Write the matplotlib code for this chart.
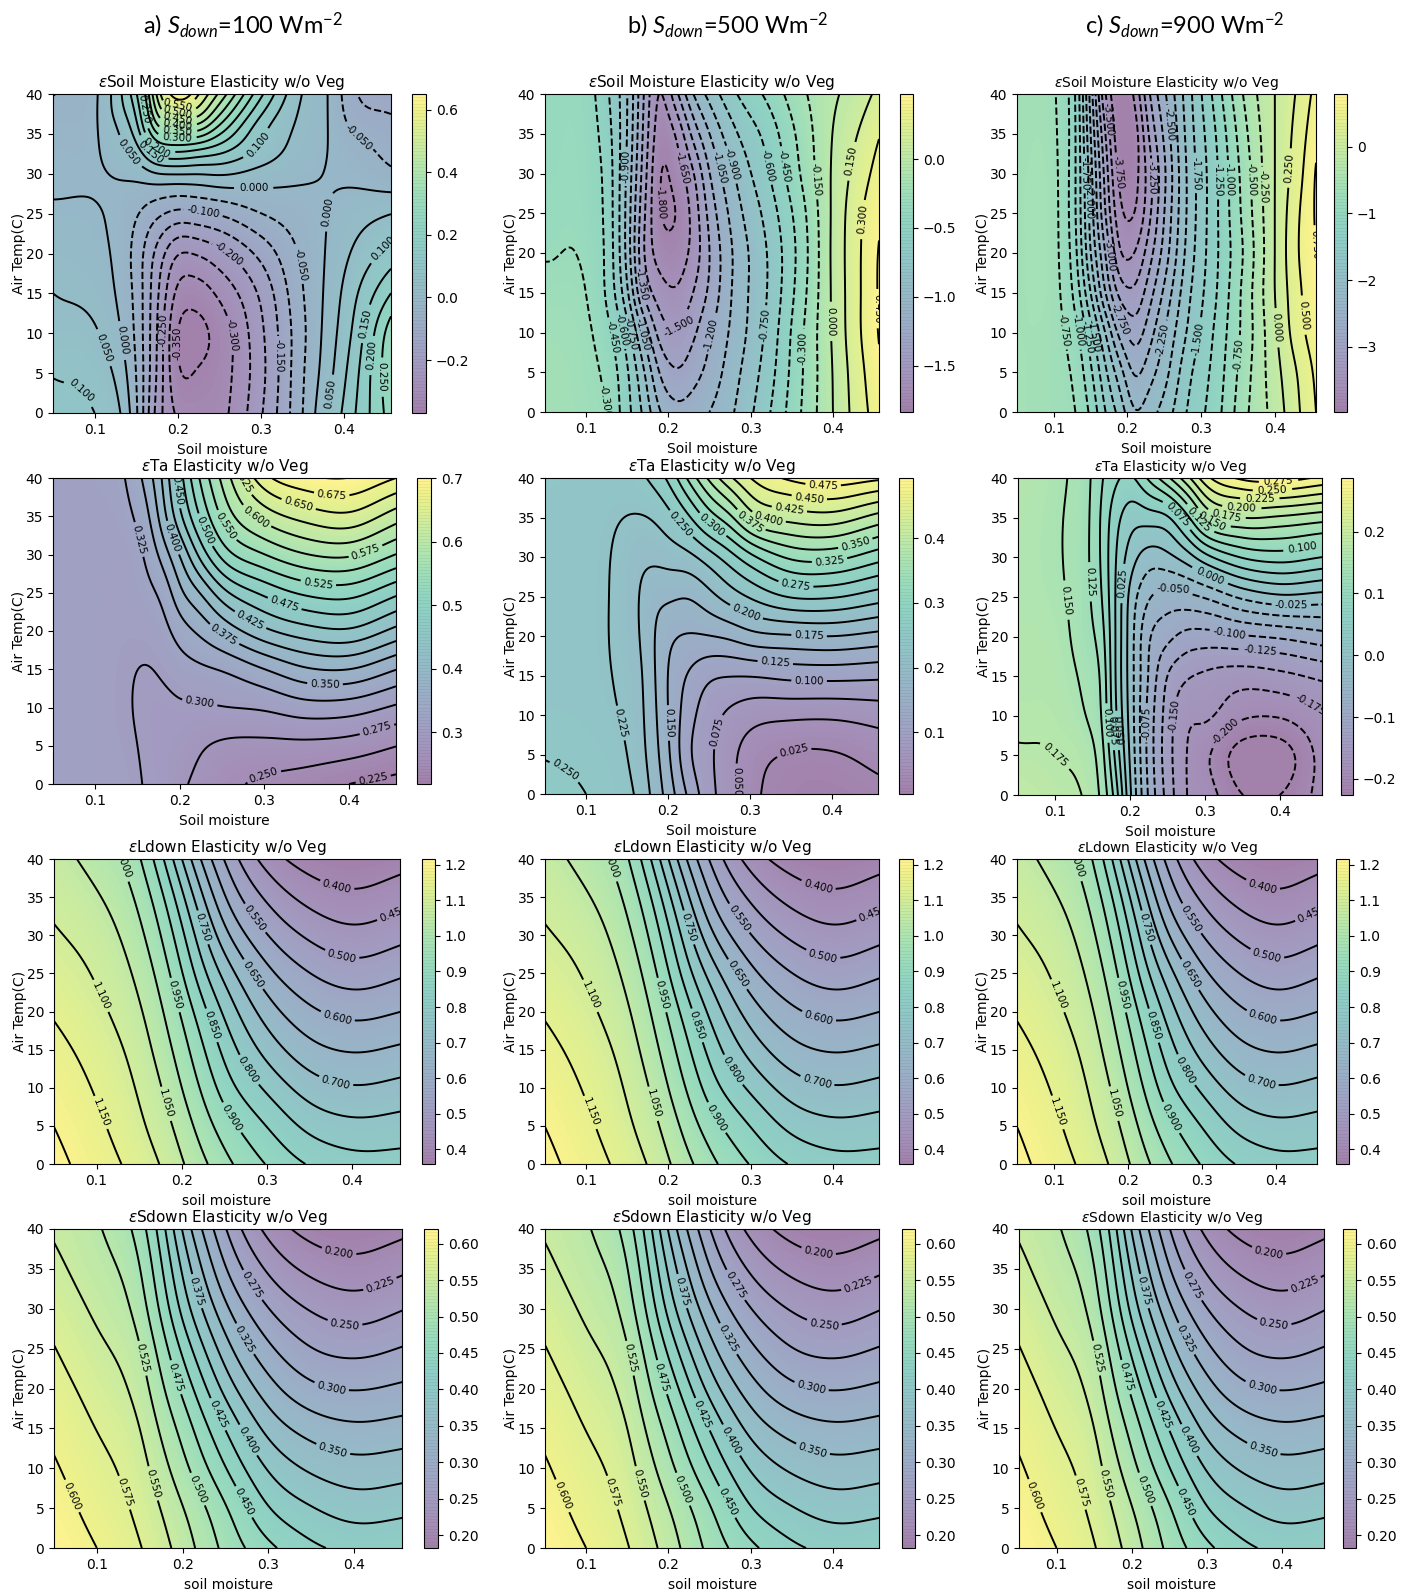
import numpy as np
import matplotlib
matplotlib.use("Agg")
import matplotlib.pyplot as plt
from matplotlib.colors import ListedColormap

W, H = 1403, 1596

# ---------- data ----------
y9 = [0, 5, 10, 15, 20, 25, 30, 35, 40]
y11 = [0, 5, 10, 15, 20, 25, 30, 33, 36, 38, 40]

# each list below is one soil-moisture column, values going up in air temperature
sm_x_a = [.05, .10, .13, .15, .175, .20, .225, .25, .30, .35, .38, .41, .456]
sm_a = [
 [.12, .097, .07, .05, .03, .007, -.01, -.012, -.022, -.035, -.052],
 [.10, .08, .057, .03, .012, .003, -.005, -.006, -.006, -.008, -.01],
 [.055, .03, .005, -.01, -.015, -.012, .004, .035, .06, .085, .09],
 [-.04, -.05, -.06, -.065, -.07, -.045, .015, .08, .135, .16, .19],
 [-.22, -.205, -.2, -.19, -.165, -.088, .045, .195, .35, .42, .46],
 [-.31, -.345, -.355, -.315, -.25, -.115, .05, .215, .395, .52, .65],
 [-.32, -.345, -.365, -.325, -.245, -.108, .05, .195, .39, .49, .55],
 [-.315, -.325, -.33, -.29, -.215, -.095, .055, .17, .295, .375, .44],
 [-.205, -.215, -.21, -.19, -.135, -.05, .03, .09, .12, .165, .21],
 [-.05, -.055, -.06, -.052, -.04, -.02, .008, .025, .035, .04, .047],
 [.05, .03, .02, .012, .005, 0., -.002, 0., .001, .001, .001],
 [.14, .125, .105, .085, .055, .025, -.012, -.025, -.06, -.08, -.09],
 [.275, .29, .28, .2, .12, .05, -.04, -.07, -.085, -.105, -.13],
]

sm_x_bc = [.05, .10, .125, .15, .17, .19, .21, .23, .25, .28, .32, .36, .40, .43, .456]
sm_b = [
 [-.20, -.21, -.22, -.26, -.31, -.33, -.34, -.35, -.36],
 [-.24, -.25, -.27, -.30, -.33, -.35, -.36, -.37, -.38],
 [-.30, -.34, -.40, -.47, -.48, -.49, -.50, -.53, -.57],
 [-.55, -.58, -.68, -.87, -.95, -.95, -.93, -.90, -.89],
 [-.78, -.88, -1.08, -1.38, -1.50, -1.47, -1.42, -1.38, -1.35],
 [-1.05, -1.22, -1.42, -1.58, -1.72, -1.80, -1.81, -1.75, -1.68],
 [-1.15, -1.34, -1.49, -1.635, -1.74, -1.80, -1.73, -1.63, -1.38],
 [-1.12, -1.26, -1.38, -1.50, -1.60, -1.60, -1.52, -1.30, -1.05],
 [-1.05, -1.15, -1.22, -1.32, -1.35, -1.30, -1.20, -1.05, -.85],
 [-.90, -.95, -1.0, -1.02, -1.03, -.98, -.90, -.78, -.62],
 [-.63, -.68, -.72, -.75, -.75, -.70, -.62, -.55, -.42],
 [-.31, -.33, -.34, -.38, -.40, -.37, -.30, -.26, -.19],
 [0., .005, .02, .025, .03, .025, .02, .005, -.025],
 [.22, .24, .27, .27, .27, .26, .21, .15, .07],
 [.38, .42, .46, .465, .46, .42, .36, .29, .19],
]

sm_x_c = [.05, .10, .13, .15, .17, .19, .21, .23, .25, .28, .32, .36, .40, .43, .456]
sm_c = [
 [-.58, -.58, -.59, -.60, -.60, -.60, -.60, -.62, -.62],
 [-.65, -.66, -.66, -.66, -.67, -.67, -.68, -.70, -.72],
 [-.75, -.82, -.93, -1.10, -1.20, -1.25, -1.25, -1.25, -1.27],
 [-1.05, -1.20, -1.40, -1.75, -2.0, -2.1, -2.15, -2.25, -2.35],
 [-1.5, -1.7, -2.0, -2.5, -2.75, -3.0, -3.1, -3.25, -3.5],
 [-1.85, -2.15, -2.6, -3.1, -3.5, -3.7, -3.85, -3.98, -4.0],
 [-2.25, -2.55, -2.88, -3.2, -3.5, -3.76, -3.85, -3.88, -3.7],
 [-2.1, -2.35, -2.6, -2.85, -3.1, -3.3, -3.35, -3.2, -3.0],
 [-1.9, -2.1, -2.25, -2.45, -2.65, -2.75, -2.8, -2.7, -2.55],
 [-1.5, -1.6, -1.75, -1.85, -1.95, -2.0, -2.0, -1.95, -1.9],
 [-1.1, -1.15, -1.2, -1.27, -1.3, -1.3, -1.3, -1.25, -1.15],
 [-.55, -.6, -.65, -.65, -.7, -.65, -.62, -.55, -.45],
 [-.15, -.1, -.05, 0., 0., 0., 0., 0., 0.],
 [.2, .25, .38, .42, .47, .45, .38, .33, .27],
 [.5, .55, .65, .72, .75, .78, .77, .68, .58],
]

ta_x = [.05, .10, .14, .16, .18, .20, .225, .25, .275, .30, .35, .40, .456]
ta_x_a = [.05, .10, .14, .16, .18, .20, .225, .25, .30, .35, .40, .456]
ta_a = [
 [.315, .315, .314, .313, .313, .313, .313, .314, .315],
 [.312, .31, .31, .31, .31, .311, .312, .313, .315],
 [.306, .303, .301, .302, .306, .31, .313, .321, .328],
 [.298, .297, .296, .298, .308, .318, .327, .34, .358],
 [.294, .293, .294, .303, .315, .33, .36, .39, .402],
 [.28, .288, .297, .313, .337, .37, .40, .445, .465],
 [.268, .277, .297, .32, .356, .40, .46, .505, .53],
 [.258, .27, .30, .325, .38, .44, .51, .555, .58],
 [.245, .268, .303, .348, .42, .48, .55, .61, .667],
 [.237, .268, .314, .372, .44, .505, .575, .635, .695],
 [.225, .264, .312, .375, .447, .51, .58, .645, .70],
 [.217, .25, .296, .35, .418, .48, .55, .612, .675],
]
ta_b = [
 [.262, .248, .24, .236, .235, .235, .235, .237, .24],
 [.25, .243, .237, .233, .232, .232, .232, .234, .238],
 [.237, .232, .225, .222, .22, .22, .221, .226, .235],
 [.225, .217, .214, .212, .207, .206, .208, .223, .24],
 [.197, .19, .186, .183, .18, .182, .205, .225, .255],
 [.165, .155, .15, .148, .155, .18, .21, .24, .278],
 [.12, .102, .11, .122, .148, .175, .217, .27, .33],
 [.083, .08, .085, .103, .15, .192, .237, .312, .38],
 [.06, .058, .07, .10, .155, .212, .262, .342, .42],
 [.033, .037, .06, .10, .167, .228, .29, .39, .45],
 [.015, .022, .055, .107, .172, .253, .33, .41, .48],
 [.012, .022, .054, .108, .175, .253, .333, .415, .49],
 [.018, .033, .06, .105, .167, .237, .31, .39, .48],
]
ta_c = [
 [.19, .178, .17, .167, .165, .163, .163, .165, .17],
 [.18, .175, .168, .163, .16, .155, .153, .153, .155],
 [.172, .163, .15, .143, .135, .133, .132, .133, .135],
 [.148, .14, .13, .125, .115, .105, .10, .10, .105],
 [.09, .07, .055, .05, .05, .05, .052, .06, .08],
 [.003, -.005, -.01, -.012, -.012, -.008, .013, .036, .07],
 [-.08, -.085, -.085, -.078, -.073, -.048, -.012, .037, .105],
 [-.135, -.14, -.137, -.127, -.093, -.06, -.006, .045, .145],
 [-.175, -.175, -.17, -.147, -.108, -.057, .012, .09, .19],
 [-.187, -.195, -.17, -.155, -.11, -.048, .04, .15, .24],
 [-.225, -.24, -.195, -.163, -.103, -.02, .077, .175, .28],
 [-.225, -.24, -.197, -.157, -.097, -.005, .087, .17, .286],
 [-.19, -.19, -.177, -.145, -.085, -.01, .075, .16, .27],
]

# these two are listed row by row, one row per air temperature
rad_x = [.05, .10, .15, .175, .20, .225, .25, .30, .35, .40, .46]
ldown = [
 [1.215, 1.175, 1.13, 1.10, 1.055, 1.01, .965, .897, .845, .82, .82],
 [1.20, 1.16, 1.11, 1.075, 1.03, .975, .925, .85, .785, .763, .772],
 [1.182, 1.145, 1.095, 1.055, 1.0, .94, .875, .79, .725, .703, .716],
 [1.165, 1.13, 1.078, 1.03, .975, .905, .835, .73, .665, .645, .66],
 [1.145, 1.112, 1.058, 1.01, .945, .865, .79, .675, .61, .585, .60],
 [1.125, 1.095, 1.038, .985, .905, .81, .735, .615, .55, .522, .545],
 [1.105, 1.078, 1.015, .955, .865, .76, .665, .55, .49, .464, .486],
 [1.088, 1.056, .99, .92, .815, .70, .60, .49, .432, .409, .433],
 [1.07, 1.03, .96, .87, .75, .635, .545, .428, .375, .36, .38],
]
sdown = [
 [.62, .60, .577, .56, .539, .515, .493, .456, .43, .419, .423],
 [.612, .59, .569, .55, .527, .504, .48, .425, .402, .388, .393],
 [.603, .582, .562, .535, .508, .48, .45, .397, .37, .36, .365],
 [.594, .574, .553, .52, .493, .458, .425, .366, .34, .33, .335],
 [.585, .565, .54, .505, .47, .43, .39, .335, .305, .298, .305],
 [.576, .555, .53, .49, .445, .40, .36, .305, .275, .267, .277],
 [.566, .545, .515, .47, .415, .37, .33, .275, .248, .237, .25],
 [.556, .535, .505, .455, .395, .345, .30, .245, .218, .209, .221],
 [.547, .528, .49, .44, .37, .32, .275, .217, .19, .183, .194],
]

titles = ['Soil Moisture', 'Ta', 'Ldown', 'Sdown']
headings = ['a)', 'b)', 'c)']
head_vals = ['100', '500', '900']
xticks = [.1, .2, .3, .4]
yticks = [0, 5, 10, 15, 20, 25, 30, 35, 40]
xlabels = ['Soil moisture', 'Soil moisture', 'soil moisture', 'soil moisture']
ylabel = 'Air Temp(C)'

lab_sm_a = {-.35:[(.201,8.7)],-.30:[(.262,9.7)],-.25:[(.178,10.4)],-.20:[(.259,19.6)],-.15:[(.325,7.2)],
 -.10:[(.231,25.4)],-.05:[(.351,18.7),(.415,34.4)],0.:[(.291,28.3),(.381,25.2),(.134,9.1)],
 .05:[(.114,8.3),(.142,32.8),(.381,2.4)],.10:[(.082,2.6),(.299,33.4),(.446,20.8)],
 .15:[(.425,11.2),(.166,32.6)],.20:[(.435,7.2),(.174,33.2)],.25:[(.448,4.5),(.154,38)],
 .30:[(.199,34.4)],.35:[(.2,35.6)],.40:[(.2,36.5)],.45:[(.2,37.2)],.50:[(.2,38)],.55:[(.2,38.7)]}
lab_sm_b = {-1.8:[(.191,26.3)],-1.65:[(.222,30.9)],-1.5:[(.216,10.4)],-1.35:[(.175,16.2)],-1.2:[(.261,9.5)],
 -1.05:[(.169,9.7),(.269,30.9)],-.9:[(.283,31.3),(.147,30.9)],-.75:[(.313,11),(.155,9.9)],
 -.6:[(.315,30.9),(.145,10.4)],-.45:[(.335,30.9),(.133,9.5)],-.3:[(.362,8),(.12,1.3)],-.15:[(.378,29.2)],
 0.:[(.4,11.4)],.15:[(.425,31.5)],.3:[(.437,24.2)],.45:[(.453,13)]}
lab_sm_c = {-3.75:[(.2,30.3)],-3.5:[(.176,36.8)],-3.25:[(.223,29.4)],-3.:[(.185,19.8)],-2.75:[(.2,12)],
 -2.5:[(.248,36.1)],-2.25:[(.248,9.1)],-2.:[(.155,26.3)],-1.75:[(.146,30),(.289,30)],
 -1.5:[(.302,9.1),(.153,9.5)],-1.25:[(.316,29.2),(.149,9.5)],-1.:[(.33,29.2),(.14,10.4)],
 -.75:[(.121,10.4),(.351,7.2)],-.5:[(.364,29.2)],-.25:[(.382,28.4)],0.:[(.404,10.6)],.25:[(.418,30.7)],
 .5:[(.441,12.2)],.75:[(.452,21)]}
lab_ta_a = {.225:[(.429,.7)],.25:[(.298,1.6)],.275:[(.433,7.3)],.30:[(.224,10.9)],.325:[(.153,32)],
 .35:[(.372,13.2)],.375:[(.25,19.1)],.40:[(.192,32.2)],.425:[(.283,21.3)],.45:[(.194,38.3)],
 .475:[(.323,23.2)],.50:[(.232,33.3)],.525:[(.364,26.2)],.55:[(.257,33.9)],.575:[(.42,30.4)],
 .60:[(.291,35)],.625:[(.265,39.3)],.65:[(.34,36.3)],.675:[(.38,37.9)]}
lab_ta_b = {.025:[(.353,5.6)],.05:[(.282,1.6)],.075:[(.259,7.9)],.10:[(.372,14.4)],.125:[(.331,16.9)],
 .15:[(.202,9)],.175:[(.372,20.1)],.20:[(.297,23.4)],.225:[(.143,9)],.25:[(.216,34.2),(.071,2.4)],
 .275:[(.356,26.7)],.30:[(.252,33.8)],.325:[(.397,29.5)],.35:[(.429,31.5)],.375:[(.303,34.9)],
 .40:[(.324,35.6)],.425:[(.348,36.1)],.45:[(.372,37.3)],.475:[(.389,38.9)]}
lab_ta_c = {-.2:[(.317,9.1)],-.175:[(.442,11.6)],-.15:[(.264,9.9)],-.125:[(.373,17.9)],-.1:[(.332,20.5)],
 -.075:[(.231,9.1)],-.05:[(.258,26.1)],-.025:[(.415,24)],0.:[(.306,27.6)],.025:[(.188,26.7)],
 .05:[(.192,8.2)],.075:[(.261,35.2),(.186,8.2)],.10:[(.431,30.8),(.173,9.1)],.125:[(.146,26.9),(.298,35.2)],
 .15:[(.115,24.6),(.315,35.6)],.175:[(.101,5.1),(.329,36)],.2:[(.349,36.4)],.225:[(.373,37)],
 .25:[(.39,38.2)],.275:[(.398,39.5)]}
lab_ld = {.40:[(.381,36)],.45:[(.449,32.7)],.50:[(.387,27)],.55:[(.283,32)],.60:[(.382,19)],.65:[(.28,24.6)],
 .70:[(.381,10.9)],.75:[(.221,30.9)],.80:[(.278,12.3)],.85:[(.23,18)],.90:[(.259,6.1)],.95:[(.19,22.1)],
 1.0:[(.139,39.6)],1.05:[(.185,8)],1.10:[(.106,22.1)],1.15:[(.106,6.8)]}
lab_sd = {.20:[(.382,36.9)],.225:[(.431,32.9)],.25:[(.389,27.9)],.275:[(.282,33)],.30:[(.374,20.3)],
 .325:[(.274,26.3)],.35:[(.376,12.5)],.375:[(.22,32.3)],.40:[(.276,13.5)],.425:[(.24,16.7)],.45:[(.27,5.7)],
 .475:[(.195,21.5)],.50:[(.216,7.3)],.525:[(.158,23.9)],.55:[(.169,8.2)],.575:[(.134,7)],.60:[(.075,6.7)]}

# ---------- panels: x nodes, y nodes, field, colour range, level step, bar ticks, labels, boxes in pixels ----------
def arr(cols):
    return np.array(cols, float).T

SOFT_SM, SOFT_TA, SOFT_RAD = (.012, 2.5), (.018, 3.5), (.03, 5.5)
SOFT_TC = (.012, 2.5)
panels = [
 (sm_x_a, y11, arr(sm_a), -.369, .65, .05, [-.2, 0, .2, .4, .6], lab_sm_a, (53, 94, 391, 413), (412, 426), 0, 0, SOFT_SM),
 (sm_x_bc, y9, arr(sm_b), -1.837, .472, .15, [-1.5, -1, -.5, 0], lab_sm_b, (545, 94, 879, 412), (900, 913), 0, 1, SOFT_SM),
 (sm_x_c, y9, arr(sm_c), -3.98, .79, .25, [-3, -2, -1, 0], lab_sm_c, (1017, 94, 1316, 412), (1334, 1347), 0, 2, SOFT_SM),
 (ta_x_a, y9, arr(ta_a), .2186, .70, .025, [.3, .4, .5, .6, .7], lab_ta_a, (53, 478, 396, 784), (417, 431), 1, 0, SOFT_TA),
 (ta_x, y9, arr(ta_b), .0046, .493, .025, [.1, .2, .3, .4], lab_ta_b, (545, 478, 878, 794), (899, 913), 1, 1, SOFT_TA),
 (ta_x, y9, arr(ta_c), -.226, .2865, .025, [-.2, -.1, 0, .1, .2], lab_ta_c, (1018, 478, 1322, 795), (1341, 1353), 1, 2, SOFT_TC),
]
ld_ticks = [.4, .5, .6, .7, .8, .9, 1.0, 1.1, 1.2]
sd_ticks = [.2, .25, .3, .35, .4, .45, .5, .55, .6]
for c, box, cb in [(0, (54, 859, 400, 1164), (422, 435)), (1, (545, 859, 879, 1164), (899, 913)), (2, (1017, 859, 1317, 1164), (1336, 1349))]:
    panels.append((rad_x, y9, np.array(ldown), .359, 1.216, .05, ld_ticks, lab_ld, box, cb, 2, c, SOFT_RAD))
for c, box, cb in [(0, (54, 1229, 402, 1548), (424, 438)), (1, (545, 1229, 879, 1548), (902, 915)), (2, (1019, 1229, 1324, 1548), (1343, 1356))]:
    panels.append((rad_x, y9, np.array(sdown), .1826, .62, .025, sd_ticks, lab_sd, box, cb, 3, c, SOFT_RAD))


def hermite(xn, z, xf, axis):
    """Draw a smooth curve through the read values along one axis."""
    z = np.moveaxis(z, axis, 0)
    xn = np.asarray(xn, float)
    d = np.gradient(z, xn, axis=0)
    i = np.clip(np.searchsorted(xn, xf, side='right') - 1, 0, len(xn) - 2)
    h = xn[i + 1] - xn[i]
    t = (xf - xn[i]) / h
    shape = (-1,) + (1,) * (z.ndim - 1)
    t = t.reshape(shape)
    h = h.reshape(shape)
    out = ((2*t**3 - 3*t**2 + 1) * z[i] + (t**3 - 2*t**2 + t) * h * d[i]
           + (-2*t**3 + 3*t**2) * z[i + 1] + (t**3 - t**2) * h * d[i + 1])
    return np.moveaxis(out, 0, axis)


def soften(F, n, axis):
    """Two box passes along one axis, mirrored oddly at the edges so edge values stay put."""
    F = np.moveaxis(F, axis, 0)
    for _ in range(2):
        pad_lo = 2 * F[:1] - F[n:0:-1]
        pad_hi = 2 * F[-1:] - F[-2:-n - 2:-1]
        G = np.concatenate([pad_lo, F, pad_hi], axis=0)
        c = np.cumsum(np.concatenate([np.zeros_like(G[:1]), G], axis=0), axis=0)
        F = (c[2 * n + 1:] - c[:-(2 * n + 1)]) / (2 * n + 1)
    return np.moveaxis(F, 0, axis)


def box_axes(fig, l, t, r, b):
    return fig.add_axes([l / W, 1 - b / H, (r - l) / W, (b - t) / H])


# the reference blends viridis half and half with the white page
base = plt.get_cmap('viridis')(np.linspace(0, 1, 256))
pale = ListedColormap(0.5 * base[:, :3] + 0.5)

plt.rcParams['mathtext.fontset'] = 'dejavusans'
plt.rcParams['mathtext.rm'] = 'Lato'
plt.rcParams['mathtext.it'] = 'Lato:italic'

fig = plt.figure(figsize=(W / 100, H / 100), dpi=100)

for xn, yn, Z, lo, hi, step, cticks, labs, box, cbx, row, col, soft in panels:
    ax = box_axes(fig, *box)
    ax.set_xlim(.05, .456)
    ax.set_ylim(0, 40)
    xf = np.linspace(xn[0], xn[-1], 320)
    yf = np.linspace(yn[0], yn[-1], 320)
    F = hermite(yn, hermite(xn, Z, xf, 1), yf, 0)
    nx = max(1, int(soft[0] / (xf[1] - xf[0]) / 2))
    ny = max(1, int(soft[1] / (yf[1] - yf[0]) / 2))
    F = soften(soften(F, nx, 1), ny, 0)
    fills = np.linspace(lo, hi, 101)
    cf = ax.contourf(xf, yf, np.clip(F, lo, hi), levels=fills, cmap=pale)
    first = np.ceil(lo / step - 1e-9) * step
    levels = np.round(np.arange(first, hi + 1e-9, step), 4) + 0.0
    levels[np.abs(levels) < 1e-9] = 0.0
    cs = ax.contour(xf, yf, F, levels=levels, colors='k', linewidths=1.4)
    ax.set_xlim(.05, .456)
    ax.set_ylim(0, 40)
    ax.clabel(cs, manual=[], inline=True, fontsize=7.5, fmt='%.3f')
    levs = list(cs.levels)
    for lv, pts in labs.items():
        i = int(np.argmin(np.abs(np.array(levs) - lv)))
        cs.labelIndiceList = [i]
        for px, py in pts:
            try:
                cs.add_label_near(px, py, True, 3)
            except Exception:
                pass
    ax.set_xticks(xticks)
    ax.set_yticks(yticks)
    ax.tick_params(labelsize=10)
    ax.set_title(r'$\epsilon$' + titles[row] + ' Elasticity w/o Veg',
                 fontsize=10 if col == 2 else 11, pad=5)
    ax.set_xlabel(xlabels[row], fontsize=10, labelpad=4.5)
    ax.set_ylabel(ylabel, fontsize=10, labelpad=-0.5)
    cax = box_axes(fig, cbx[0], box[1], cbx[1], box[3])
    cb = fig.colorbar(cf, cax=cax)
    cb.set_ticks(cticks)
    cb.ax.tick_params(labelsize=10)
    cb.solids.set_edgecolor((0, 0, 0, .05))
    cb.solids.set_linewidth(.4)

for name, val, cx in zip(headings, head_vals, [243, 728, 1185]):
    fig.text(cx / W, 1 - 25 / H,
             name + r' $\mathit{S_{down}}$=' + val + r' Wm$^{-2}$',
             ha='center', va='center', fontsize=17, family='Lato',
             math_fontfamily='custom')

fig.savefig('out.png', dpi=100)
